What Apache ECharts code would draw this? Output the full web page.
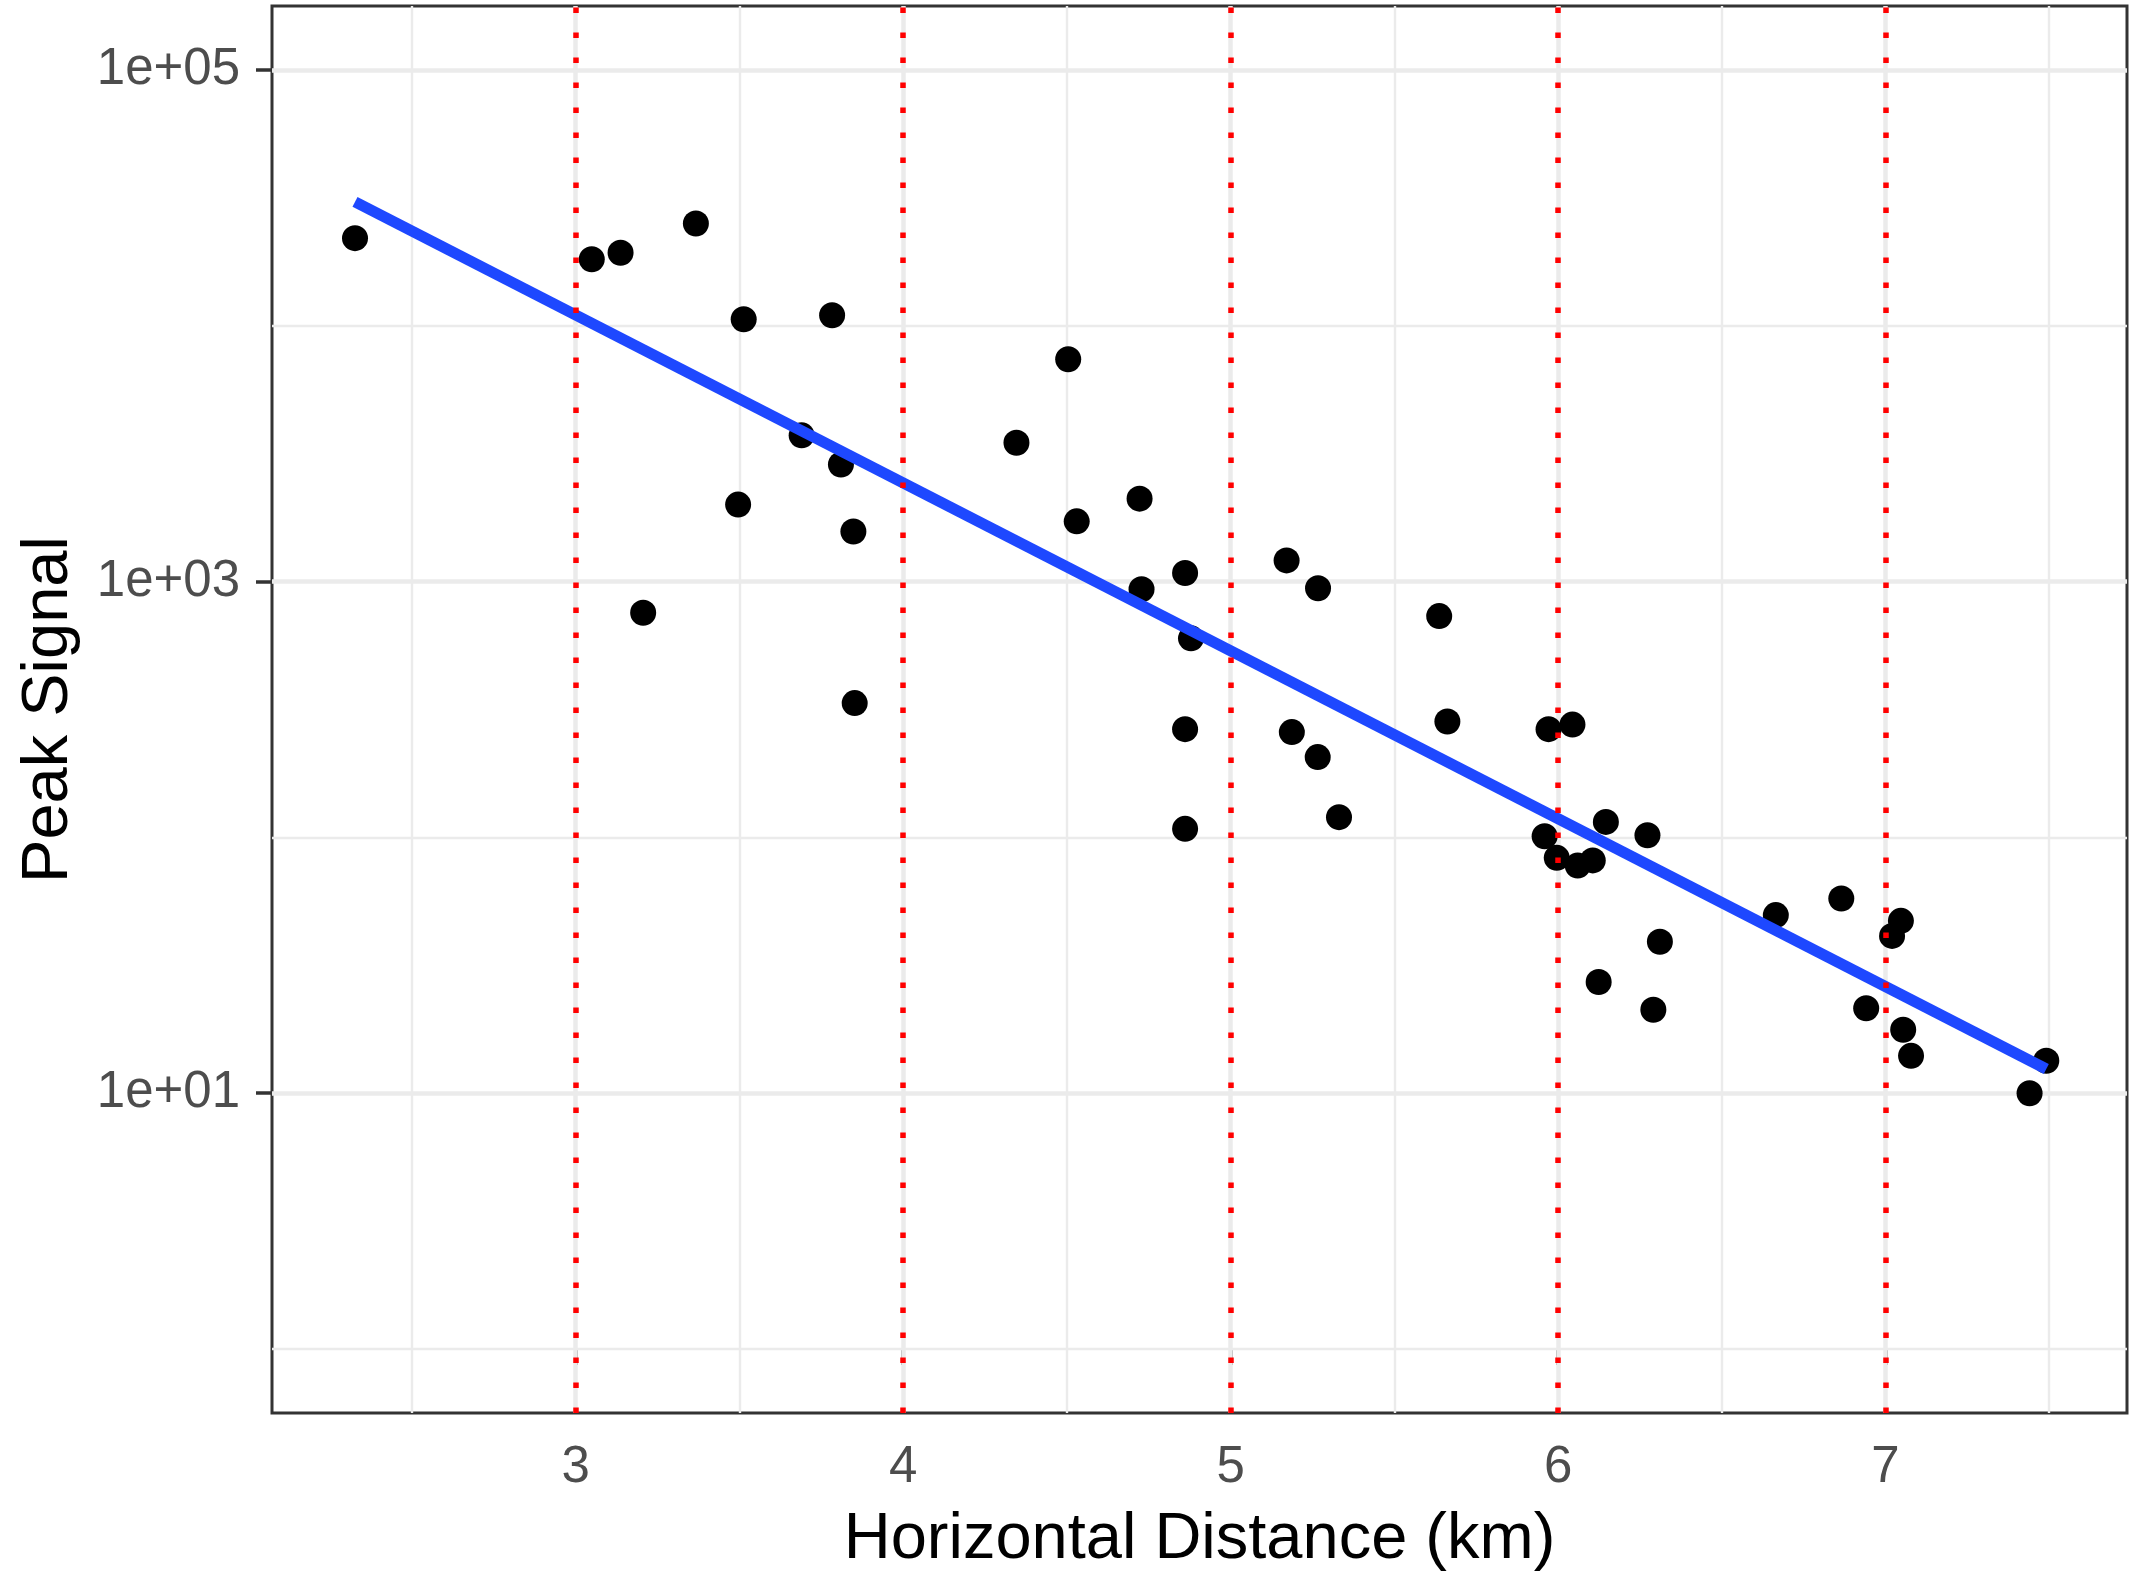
<!DOCTYPE html>
<html>
<head>
<meta charset="utf-8">
<script src="https://cdn.jsdelivr.net/npm/echarts@6/dist/echarts.min.js"></script>
<style>
html,body{margin:0;padding:0;background:#fff;}
#chart{width:2132px;height:1578px;}
</style>
</head>
<body>
<div id="chart"></div>
<script>
// Horizontal distance (km) of each measurement
const xDistance = [2.326, 3.049, 3.137, 3.367, 3.206, 3.513, 3.496, 3.690, 3.783, 3.810,
  3.848, 3.852, 4.346, 4.504, 4.530, 4.722, 4.728, 4.861, 4.879, 4.861,
  4.861, 5.171, 5.267, 5.187, 5.266, 5.331, 5.637, 5.662, 5.971, 6.044,
  5.959, 5.996, 6.060, 6.106, 6.146, 6.273, 6.124, 6.311, 6.291, 6.665,
  6.865, 7.020, 7.047, 6.941, 7.054, 7.078, 7.440, 7.491];
// Peak signal of each measurement
const peakSignal = [22000, 18200, 19300, 25100, 755, 10600, 2000, 3730, 11000, 2870,
  1570, 335, 3490, 7400, 1720, 2110, 933, 1080, 600, 265,
  108, 1210, 942, 258, 206, 120, 733, 284, 265, 276,
  101, 83.2, 77.6, 81.3, 115, 102, 27.2, 39.1, 21.2, 49.7,
  57.7, 41.2, 47.2, 21.5, 17.7, 14.0, 10.0, 13.4];
const vlineX = [3, 4, 5, 6, 7];
const xTickValues = [3, 4, 5, 6, 7];
const xMinorGrid = [2.5, 3.5, 4.5, 5.5, 6.5, 7.5];
const yTickValues = [10, 1000, 100000];
const yTickLabels = ['1e+01', '1e+03', '1e+05'];
const yMinorGrid = [1, 100, 10000];

const logY = peakSignal.map(v => Math.log10(v));
const points = xDistance.map((x, i) => [x, logY[i]]);

// linear fit of log10(signal) on distance
const n = xDistance.length;
const mx = xDistance.reduce((a, b) => a + b, 0) / n;
const my = logY.reduce((a, b) => a + b, 0) / n;
let sxy = 0, sxx = 0;
for (let i = 0; i < n; i++) { sxy += (xDistance[i] - mx) * (logY[i] - my); sxx += (xDistance[i] - mx) ** 2; }
const slope = sxy / sxx, icpt = my - slope * mx;
const xLo = Math.min(...xDistance), xHi = Math.max(...xDistance);
const fitLine = [[xLo, icpt + slope * xLo], [xHi, icpt + slope * xHi]];

const yTickLog = yTickValues.map(v => Math.log10(v));
const labelMap = {};
yTickLog.forEach((v, i) => { labelMap[v.toFixed(3)] = yTickLabels[i]; });

const GRID_MAJOR = {color: '#EBEBEB', width: 4.5, type: 'solid'};
const GRID_MINOR = {color: '#EBEBEB', width: 2.4, type: 'solid'};
const gridLines = [];
xTickValues.forEach(v => gridLines.push({xAxis: v, lineStyle: GRID_MAJOR}));
xMinorGrid.forEach(v => gridLines.push({xAxis: v, lineStyle: GRID_MINOR}));
yTickLog.forEach(v => gridLines.push({yAxis: v, lineStyle: GRID_MAJOR}));
yMinorGrid.forEach(v => gridLines.push({yAxis: Math.log10(v), lineStyle: GRID_MINOR}));

const chart = echarts.init(document.getElementById('chart'), null, {renderer: 'canvas'});
const FONT = '"Liberation Sans", Arial, Helvetica, sans-serif';
chart.setOption({
  animation: false,
  backgroundColor: '#ffffff',
  grid: {left: 272, right: 5, top: 6, bottom: 157, show: true, borderColor: '#333333', borderWidth: 3, backgroundColor: 'transparent', containLabel: false},
  xAxis: {
    type: 'value', min: 2.0725, max: 7.7375,
    name: 'Horizontal Distance (km)', nameLocation: 'middle', nameGap: 95,
    nameTextStyle: {fontFamily: FONT, fontSize: 65, color: '#000000'},
    axisLine: {show: false},
    axisTick: {show: true, length: 16, customValues: xTickValues, lineStyle: {color: '#333333', width: 3.5}},
    axisLabel: {customValues: xTickValues, fontFamily: FONT, fontSize: 51, color: '#4D4D4D', margin: 29, formatter: v => String(v)},
    splitLine: {show: false}
  },
  yAxis: {
    type: 'value', min: -0.25, max: 5.25,
    name: 'Peak Signal', nameLocation: 'middle', nameGap: 190,
    nameTextStyle: {fontFamily: FONT, fontSize: 65, color: '#000000'},
    axisLine: {show: false},
    axisTick: {show: true, length: 16, customValues: yTickLog, lineStyle: {color: '#333333', width: 3.5}},
    axisLabel: {customValues: yTickLog, fontFamily: FONT, fontSize: 51, color: '#4D4D4D', margin: 32,
      formatter: v => labelMap[v.toFixed(3)] || ''},
    splitLine: {show: false}
  },
  series: [
    {
      type: 'line', data: [], z: 1, silent: true,
      markLine: {silent: true, symbol: ['none', 'none'], label: {show: false}, z: 1, animation: false,
        emphasis: {disabled: true}, data: gridLines}
    },
    {
      type: 'scatter', data: points, z: 2, symbol: 'circle', symbolSize: 26,
      itemStyle: {color: '#000000', opacity: 1}, emphasis: {disabled: true}, silent: true
    },
    {
      type: 'line', data: fitLine, z: 3, showSymbol: false, symbol: 'none', silent: true,
      lineStyle: {color: '#1E48FF', width: 11, cap: 'butt', opacity: 1}, emphasis: {disabled: true}
    },
    {
      type: 'line', data: [], z: 4, silent: true,
      markLine: {silent: true, symbol: ['none', 'none'], label: {show: false}, z: 4, animation: false,
        emphasis: {disabled: true},
        lineStyle: {color: '#FF0000', width: 5.5, type: [5.5, 19.5], cap: 'butt', opacity: 1},
        data: vlineX.map(v => ({xAxis: v}))}
    }
  ]
});
</script>
</body>
</html>
